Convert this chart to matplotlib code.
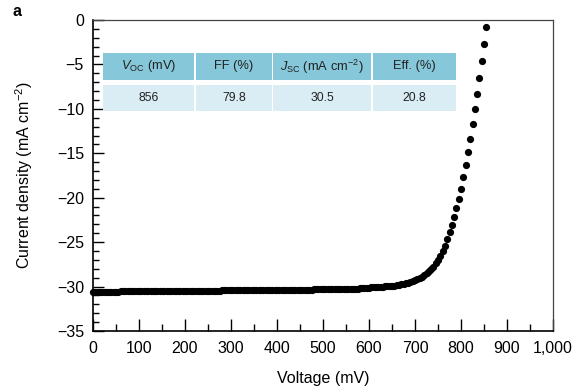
import matplotlib
matplotlib.use("Agg")
import matplotlib.pyplot as plt
from matplotlib.patches import Rectangle
from matplotlib.ticker import MultipleLocator, FuncFormatter

plt.rcParams["font.family"] = ["Liberation Sans", "DejaVu Sans"]
plt.rcParams["mathtext.fontset"] = "custom"
plt.rcParams["mathtext.rm"] = "Liberation Sans"
plt.rcParams["mathtext.it"] = "Liberation Sans:italic"
plt.rcParams["axes.unicode_minus"] = True

# J-V sweep (5 mV steps)
voltage_mv = [
    0, 5, 10, 15, 20, 25, 30, 35, 40, 45, 50, 55, 60, 65, 70, 75, 80, 85, 90, 95,
    100, 105, 110, 115, 120, 125, 130, 135, 140, 145, 150, 155, 160, 165, 170, 175, 180, 185, 190, 195,
    200, 205, 210, 215, 220, 225, 230, 235, 240, 245, 250, 255, 260, 265, 270, 275, 280, 285, 290, 295,
    300, 305, 310, 315, 320, 325, 330, 335, 340, 345, 350, 355, 360, 365, 370, 375, 380, 385, 390, 395,
    400, 405, 410, 415, 420, 425, 430, 435, 440, 445, 450, 455, 460, 465, 470, 475, 480, 485, 490, 495,
    500, 505, 510, 515, 520, 525, 530, 535, 540, 545, 550, 555, 560, 565, 570, 575, 580, 585, 590, 595,
    600, 605, 610, 615, 620, 625, 630, 635, 640, 645, 650, 655, 660, 665, 670, 675, 680, 685, 690, 695,
    700, 705, 710, 715, 720, 725, 730, 735, 740, 745, 750, 755, 760, 765, 770, 775, 780, 785, 790, 795,
    800, 805, 810, 815, 820, 825, 830, 835, 840, 845, 850, 855,
]
current_density = [
    -30.58, -30.58, -30.58, -30.58, -30.57, -30.57, -30.57, -30.57, -30.56, -30.56,
    -30.56, -30.56, -30.55, -30.55, -30.55, -30.55, -30.54, -30.54, -30.54, -30.54,
    -30.53, -30.53, -30.53, -30.53, -30.52, -30.52, -30.52, -30.52, -30.51, -30.51,
    -30.51, -30.51, -30.50, -30.50, -30.50, -30.50, -30.49, -30.49, -30.49, -30.49,
    -30.48, -30.48, -30.48, -30.48, -30.47, -30.47, -30.47, -30.47, -30.46, -30.46,
    -30.46, -30.46, -30.45, -30.45, -30.45, -30.45, -30.44, -30.44, -30.44, -30.44,
    -30.43, -30.43, -30.43, -30.43, -30.42, -30.42, -30.42, -30.42, -30.41, -30.41,
    -30.41, -30.41, -30.39, -30.39, -30.39, -30.39, -30.38, -30.38, -30.38, -30.38,
    -30.37, -30.37, -30.37, -30.37, -30.36, -30.36, -30.36, -30.36, -30.35, -30.35,
    -30.35, -30.35, -30.33, -30.33, -30.33, -30.33, -30.32, -30.32, -30.32, -30.32,
    -30.30, -30.30, -30.30, -30.30, -30.28, -30.28, -30.28, -30.28, -30.25, -30.25,
    -30.25, -30.25, -30.22, -30.22, -30.22, -30.22, -30.17, -30.16, -30.14, -30.13,
    -30.11, -30.10, -30.08, -30.07, -30.05, -30.03, -30.01, -29.99, -29.97, -29.95,
    -29.92, -29.89, -29.85, -29.81, -29.76, -29.70, -29.64, -29.57, -29.49, -29.40,
    -29.30, -29.18, -29.05, -28.90, -28.72, -28.52, -28.30, -28.05, -27.75, -27.40,
    -27.00, -26.55, -26.00, -25.40, -24.70, -23.90, -23.10, -22.20, -21.20, -20.20,
    -19.00, -17.70, -16.30, -14.90, -13.40, -11.70, -10.00, -8.30, -6.50, -4.60,
    -2.70, -0.80,
]

# Summary of device metrics
metric_headers = [r"$V_{\rm OC}$ (mV)", "FF (%)", r"$J_{\rm SC}$ (mA cm$^{-2}$)", "Eff. (%)"]
metric_values = ["856", "79.8", "30.5", "20.8"]

x_ticks = [0, 100, 200, 300, 400, 500, 600, 700, 800, 900, 1000]
y_ticks = [0, -5, -10, -15, -20, -25, -30, -35]

W, H = 575, 386
fig = plt.figure(figsize=(W / 100, H / 100), dpi=100)
ax_l, ax_r, ax_t, ax_b = 93, 553, 20, 331
ax = fig.add_axes([ax_l / W, 1 - ax_b / H, (ax_r - ax_l) / W, (ax_b - ax_t) / H])

ax.plot(voltage_mv, current_density, linestyle="none", marker="o",
        markersize=5.2, color="black", markeredgewidth=0, clip_on=False, zorder=3)

ax.set_xlim(0, 1000)
ax.set_ylim(-35, 0)
ax.set_xticks(x_ticks)
ax.set_yticks(y_ticks)
ax.xaxis.set_minor_locator(MultipleLocator(50))
ax.yaxis.set_minor_locator(MultipleLocator(1))
ax.xaxis.set_major_formatter(FuncFormatter(lambda v, p: f"{int(v):,}"))
ax.yaxis.set_major_formatter(FuncFormatter(lambda v, p: f"{int(v)}".replace("-", "\u2212")))

ax.tick_params(which="both", direction="in", top=False, right=False, labelsize=11.5, width=1.0)
ax.tick_params(axis="x", which="major", length=9, pad=7)
ax.tick_params(axis="x", which="minor", length=5)
ax.tick_params(axis="y", which="major", length=8, pad=6.5)
ax.tick_params(axis="y", which="minor", length=4)

for side in ("left", "bottom"):
    ax.spines[side].set_linewidth(1.2)
    ax.spines[side].set_color("black")
for side in ("top", "right"):
    ax.spines[side].set_linewidth(0.9)
    ax.spines[side].set_color("#444444")

ax.set_xlabel("Voltage (mV)", fontsize=11.5, labelpad=11)
ax.set_ylabel(r"Current density (mA cm$^{-2}$)", fontsize=11.5, labelpad=16)

fig.text(12 / W, 1 - 12 / H, "a", fontsize=11.5, fontweight="bold", va="center", ha="left")

# Metrics table drawn as coloured cells in pixel layout
col_edges = [(103, 194), (196, 272), (273, 371), (373, 456)]
rows = [((53, 80), "#86C8DA", metric_headers, 9.3),
        ((85, 111), "#DAEDF4", metric_values, 8.7)]
for (y0, y1), color, labels, fsize in rows:
    for (x0, x1), label in zip(col_edges, labels):
        fig.patches.append(Rectangle((x0 / W, 1 - y1 / H), (x1 - x0) / W, (y1 - y0) / H,
                                     transform=fig.transFigure, facecolor=color,
                                     edgecolor="none", zorder=1))
        fig.text((x0 + x1) / 2 / W, 1 - (y0 + y1) / 2 / H, label, fontsize=fsize,
                 ha="center", va="center", color="#222222", zorder=2)

fig.savefig("out.png", dpi=100)
